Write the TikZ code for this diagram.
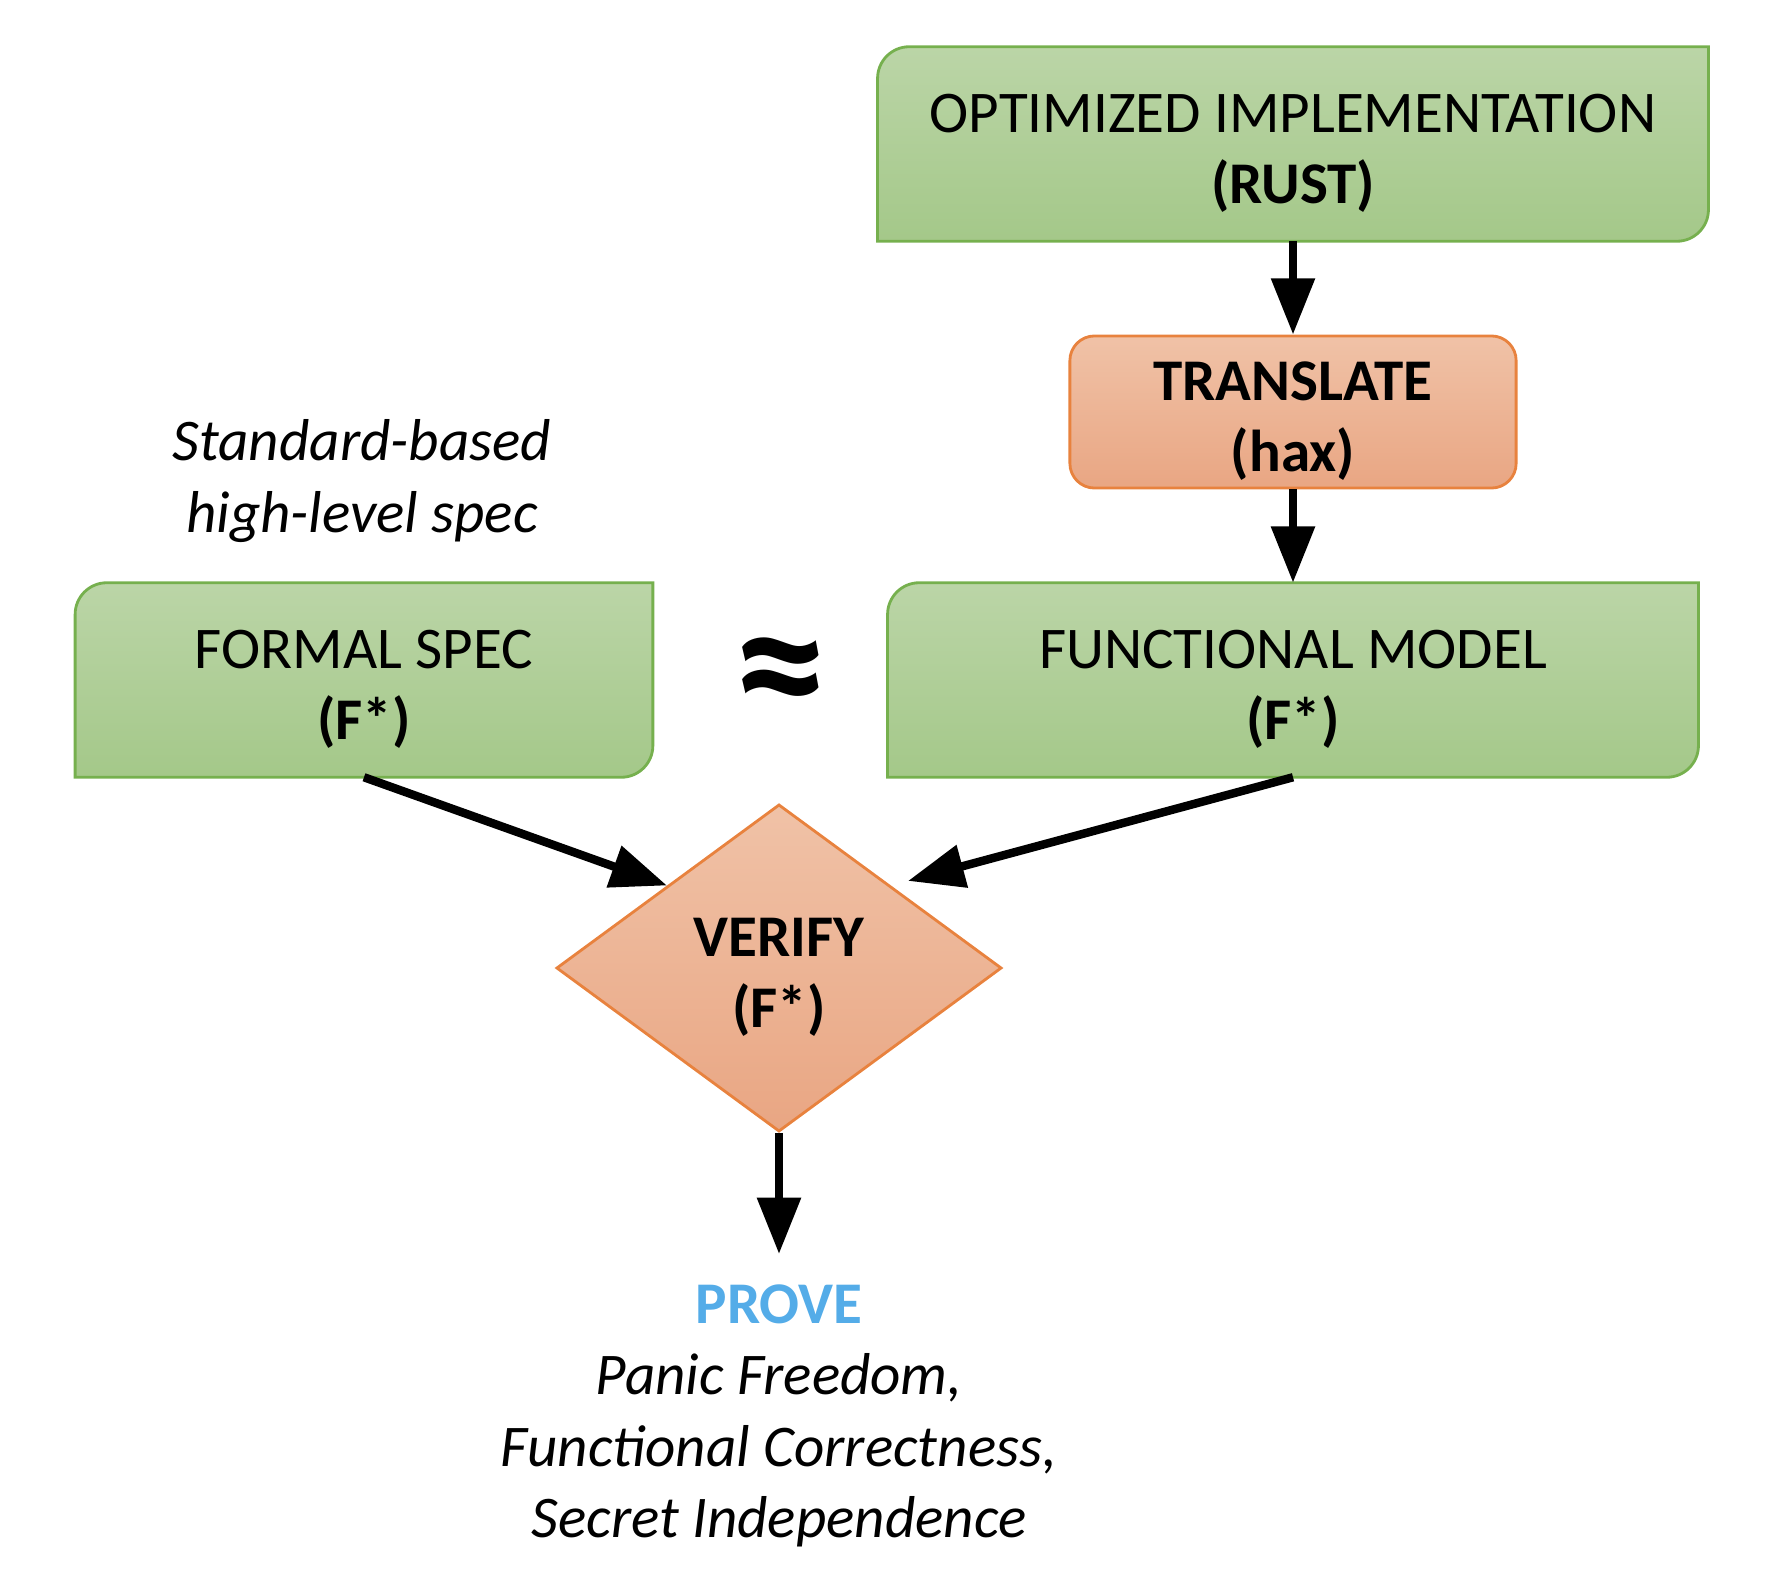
\documentclass[tikz,border=0pt]{standalone}
\usepackage{fontspec}
\setmainfont{Carlito}
\usetikzlibrary{arrows.meta,shapes.geometric,backgrounds}

\definecolor{spectop}{RGB}{187,213,167}
\definecolor{specbot}{RGB}{164,200,137}
\definecolor{specline}{RGB}{118,176,78}
\definecolor{tooltop}{RGB}{240,194,167}
\definecolor{toolbot}{RGB}{233,166,131}
\definecolor{toolline}{RGB}{232,130,62}
\definecolor{provecolor}{RGB}{84,172,232}

\begin{document}
\begin{tikzpicture}[x=0.01cm, y=-0.01cm, >={Triangle[length=16pt,width=12pt]}]
\tikzset{every node/.style={font=\fontsize{16.8}{20.3}\selectfont, align=center, inner sep=0pt, text depth=0pt}};
\tikzset{greenbox/.style={minimum height=1.93cm, text height=33.9pt}};
\tikzset{greenshape/.style={top color=spectop, bottom color=specbot, draw=specline, line width=0.8pt}};
\tikzset{toolbox/.style={top color=tooltop, bottom color=toolbot, draw=toolline, line width=0.8pt, text height=33.9pt}};
\tikzset{flow/.style={->, line width=2.4pt}};
\useasboundingbox (0,0) rectangle (1776,1570);

% boxes
\node[greenbox, minimum width=8.29cm] (impl) at (1293,144) {OPTIMIZED IMPLEMENTATION\\\textbf{(RUST)}};
\node[toolbox, rounded corners=7pt, minimum width=4.46cm, minimum height=1.52cm] (trans) at (1293,412) {\textbf{TRANSLATE}\\\textbf{(hax)}};
\node[font=\fontsize{16.8}{20.3}\selectfont\itshape] (note) at (362,476) {Standard-based\\high-level spec};
\node[greenbox, minimum width=5.76cm] (formal) at (364,680) {FORMAL SPEC\\\textbf{(F*)}};
\node[greenbox, minimum width=8.09cm] (funct) at (1293,680) {FUNCTIONAL MODEL\\\textbf{(F*)}};
\node[font=\fontsize{54}{54}\selectfont\bfseries] (approx) at (781,683) {≈};
\node[toolbox, diamond, minimum width=4.45cm, minimum height=3.27cm] (verify) at (779,968) {\textbf{VERIFY}\\\textbf{(F*)}};
\node[anchor=north] (prove) at (779,1284) {\textcolor{provecolor}{\textbf{PROVE}}\\\textit{Panic Freedom,}\\\textit{Functional Correctness,}\\\textit{Secret Independence}};

% green shapes behind the text
\begin{scope}[on background layer]
\foreach \b in {impl,formal,funct}
  \path[greenshape] (\b.south west) [rounded corners=9pt] -- (\b.north west) [sharp corners] -- (\b.north east) [rounded corners=9pt] -- (\b.south east) [sharp corners] -- cycle;
\end{scope}

% arrows
\draw[flow] (impl) -- (trans);
\draw[flow] (trans) -- (funct);
\draw[flow] (formal.south) -- (verify.north west);
\draw[flow, shorten >=5pt] (funct.south) -- (verify.north east);
\draw[flow] (verify.south) -- ([yshift=0.3cm]prove.north);
\end{tikzpicture}
\end{document}
